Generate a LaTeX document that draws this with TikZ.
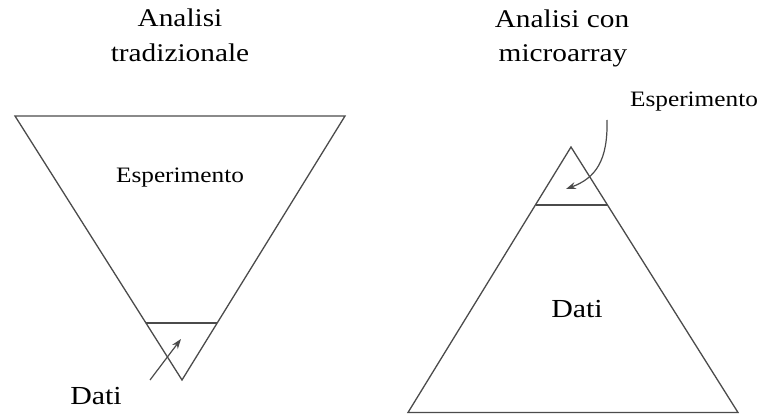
\documentclass[tikz,border=0pt]{standalone}
\usepackage{fontspec}
\setmainfont{Liberation Serif}[FakeStretch=1.15]
\usetikzlibrary{arrows.meta}
\definecolor{linegray}{RGB}{75,75,75}
\tikzset{
  shape line/.style={draw=linegray, line width=1.3pt, line join=miter},
  pointer/.style={draw=linegray, line width=1.2pt, -{Stealth[length=10pt,width=7pt]}},
  title/.style={anchor=base, inner sep=0pt, font=\fontsize{25.5}{30}\selectfont},
  label/.style={anchor=base, inner sep=0pt, font=\fontsize{22}{26}\selectfont},
  big/.style={anchor=base, inner sep=0pt, font=\fontsize{26}{30}\selectfont}
}
\begin{document}
\begin{tikzpicture}[x=1pt,y=-1pt]
\useasboundingbox (0,0) rectangle (761,414);
% titles
\node[title] (t1a) at (180,27) {Analisi};
\node[title] (t1b) at (180,62) {tradizionale};
\node[title] (t2a) at (562,28) {Analisi con};
\node[title] (t2b) at (563,62) {microarray};
% left inverted triangle
\coordinate (LA) at (15,116);
\coordinate (LB) at (345,116);
\coordinate (LC) at (182,380);
\draw[shape line] (LA) -- (LB) -- (LC) -- cycle;
\draw[shape line] (146,323) -- (217,323);
\node[label] (esp1) at (180,183) {Esperimento};
\node[big] (dati1) at (96,404) {Dati};
\coordinate (a1s) at (150,380);
\coordinate (a1e) at (181,339);
\draw[pointer] (a1s) -- (a1e);
% right triangle
\coordinate (RA) at (571,147);
\coordinate (RB) at (738,412.5);
\coordinate (RC) at (408,412.5);
\draw[shape line] (RA) -- (RB) -- (RC) -- cycle;
\draw[shape line] (536,205) -- (607,205);
\node[label] (esp2) at (694,107) {Esperimento};
\node[big] (dati2) at (577,318) {Dati};
\coordinate (a2s) at (607,120);
\coordinate (a2e) at (566,189);
\draw[pointer] (a2s) .. controls (608,160) and (596,178) .. (a2e);
\end{tikzpicture}
\end{document}
